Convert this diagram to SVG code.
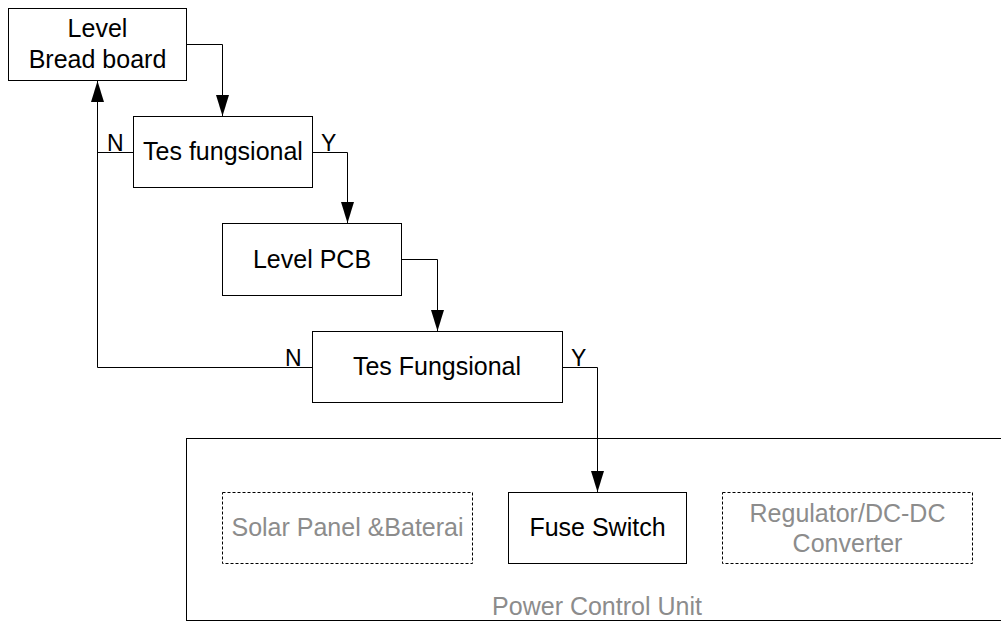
<svg xmlns="http://www.w3.org/2000/svg" width="1001" height="621" viewBox="0 0 1001 621">
<defs>
<marker id="arr" markerWidth="21" markerHeight="14" refX="21" refY="7" orient="auto" markerUnits="userSpaceOnUse">
<path d="M0,0.5 L21,7 L0,13.5 Z" fill="#000"/>
</marker>
<style>
.box{fill:#fff;stroke:#000;stroke-width:1}
.dbox{fill:#fff;stroke:#000;stroke-width:1;stroke-dasharray:3,2}
.t{font-family:"Liberation Sans",Arial,sans-serif;font-size:25px;fill:#000;text-anchor:middle}
.g{fill:#8c8c8c}
.lbl{font-family:"Liberation Sans",Arial,sans-serif;font-size:23px;fill:#000}
.c{fill:none;stroke:#000;stroke-width:1}
</style>
</defs>
<rect width="1001" height="621" fill="#fff"/>
<g id="container">
<rect x="186.5" y="438.5" width="830" height="182" fill="none" stroke="#000" stroke-width="1"/>
<text class="t g" x="597" y="615">Power Control Unit</text>
</g>
<g id="n1">
<rect class="box" x="8.5" y="8.5" width="178" height="72"/>
<text class="t" x="97.5" y="37">Level</text>
<text class="t" x="97.5" y="68">Bread board</text>
</g>
<g id="n2">
<rect class="box" x="133.5" y="116.5" width="179" height="71"/>
<text class="t" x="223" y="160">Tes fungsional</text>
</g>
<g id="n3">
<rect class="box" x="222.5" y="223.5" width="179" height="72"/>
<text class="t" x="312" y="268">Level PCB</text>
</g>
<g id="n4">
<rect class="box" x="312.5" y="331.5" width="250" height="71"/>
<text class="t" x="437" y="375">Tes Fungsional</text>
</g>
<g id="n5">
<rect class="dbox" x="222.5" y="492.5" width="250" height="71"/>
<text class="t g" x="347.5" y="536">Solar Panel &amp;Baterai</text>
</g>
<g id="n6">
<rect class="box" x="508.5" y="492.5" width="178" height="71"/>
<text class="t" x="597.5" y="536">Fuse Switch</text>
</g>
<g id="n7">
<rect class="dbox" x="722.5" y="492.5" width="250" height="71"/>
<text class="t g" x="847.5" y="522">Regulator/DC-DC</text>
<text class="t g" x="847.5" y="552">Converter</text>
</g>
<g id="connectors">
<path class="c" d="M186.5,44.5 H222.5 V116" marker-end="url(#arr)"/>
<path class="c" d="M312.5,152.5 H347.5 V223" marker-end="url(#arr)"/>
<path class="c" d="M401.5,259.5 H437.5 V331" marker-end="url(#arr)"/>
<path class="c" d="M562.5,367.5 H597.5 V492" marker-end="url(#arr)"/>
<path class="c" d="M312.5,367.5 H97.5 V81" marker-end="url(#arr)"/>
<path class="c" d="M133.5,152.5 H97.5"/>
<text class="lbl" x="107" y="151">N</text>
<text class="lbl" x="321" y="151">Y</text>
<text class="lbl" x="285" y="366">N</text>
<text class="lbl" x="571" y="366">Y</text>
</g>
</svg>
